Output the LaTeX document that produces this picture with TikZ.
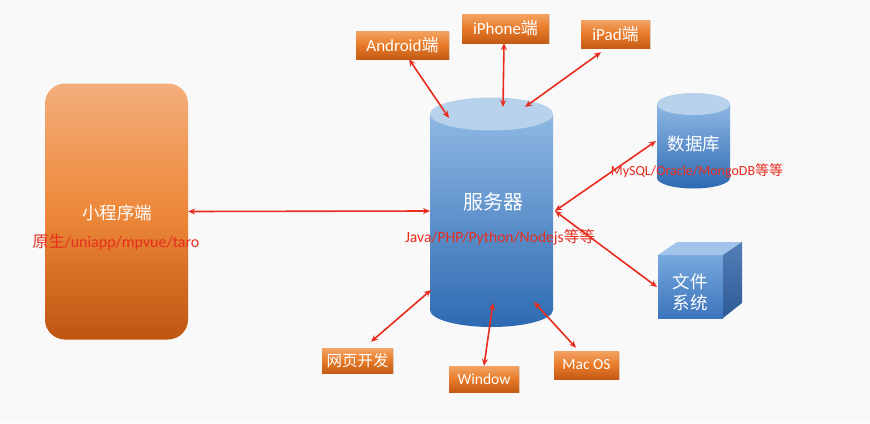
\documentclass[tikz,border=0pt]{standalone}
\usepackage{fontspec}
\setmainfont{Carlito}
\newfontfamily\cjk{Noto Sans CJK SC}
\usetikzlibrary{arrows.meta,shadows}
\definecolor{bg}{RGB}{249,249,250}
\definecolor{ared}{RGB}{232,45,30}
\definecolor{oTop}{RGB}{243,164,100}
\definecolor{oMid}{RGB}{232,122,40}
\definecolor{oBot}{RGB}{196,92,22}
\definecolor{bTop}{RGB}{242,174,124}
\definecolor{bMid}{RGB}{238,136,58}
\definecolor{bBot}{RGB}{190,86,16}
\definecolor{cylTop}{RGB}{184,210,236}
\definecolor{cylA}{RGB}{142,184,228}
\definecolor{cylB}{RGB}{46,106,178}
\definecolor{cubeTop}{RGB}{163,196,234}
\definecolor{cubeA}{RGB}{120,168,222}
\definecolor{cubeB}{RGB}{60,116,188}
\definecolor{cubeR1}{RGB}{84,128,186}
\definecolor{cubeR2}{RGB}{44,90,148}
\tikzset{
  obox/.style={text=white, inner sep=0pt, top color=oTop, bottom color=oBot, middle color=oMid,
    drop shadow={shadow xshift=1.2pt, shadow yshift=-1.2pt, opacity=0.25}},
  topf/.style={font=\fontsize{17}{20}\selectfont},
  botf/.style={font=\fontsize{15.5}{18}\selectfont},
  arr/.style={draw=ared, line width=1.6pt, {Stealth[length=7pt,width=6pt]}-{Stealth[length=7pt,width=6pt]}},
  redtxt/.style={text=ared, inner sep=0pt},
  wtxt/.style={text=white, inner sep=0pt}
}
\begin{document}
\begin{tikzpicture}[x=1pt,y=-1pt]
\useasboundingbox (0,0) rectangle (870,423);
\fill[bg] (0,0) rectangle (870,423);

% left mini program box
\node[rounded corners=20pt, minimum width=143pt, minimum height=256pt, inner sep=0pt,
  top color=bTop, bottom color=bBot, middle color=bMid] (mini) at (116.5,211.5) {};
\node[wtxt, font=\cjk\fontsize{17.5}{20}\selectfont] (minilabel) at (117,213) {小程序端};
\node[redtxt, font=\fontsize{16}{18}\selectfont] (minitech) at (116,242) {{\cjk 原生}/uniapp/mpvue/taro};

% server cylinder
\shade[top color=cylA, bottom color=cylB] (430,115) -- (430,310) arc[start angle=180, end angle=360, x radius=61.5pt, y radius=17pt] -- (553,115) -- cycle;
\fill[cylTop] (491.5,114) ellipse[x radius=61.5pt, y radius=16.5pt];
\node[wtxt, font=\cjk\fontsize{20}{24}\selectfont] (srvlabel) at (493,202) {服务器};

% database cylinder
\shade[top color=cylA, bottom color=cylB] (657,104) -- (657,178) arc[start angle=180, end angle=360, x radius=36.5pt, y radius=10.5pt] -- (730,104) -- cycle;
\fill[cylTop] (693.5,104) ellipse[x radius=36.5pt, y radius=11pt];
\node[wtxt, font=\cjk\fontsize{17.5}{20}\selectfont] (dblabel) at (694,144) {数据库};

% file system cube
\shade[top color=cubeA, bottom color=cubeB] (658,255) rectangle (723,318);
\fill[cubeTop] (658,255) -- (677,242) -- (742,242) -- (723,255) -- cycle;
\shade[top color=cubeR1, bottom color=cubeR2] (723,255) -- (742,242) -- (742,303) -- (723,318) -- cycle;
\node[wtxt, align=center, font=\cjk\fontsize{17.5}{21}\selectfont] (fslabel) at (690,292) {文件\\系统};

% red technology labels
\node[redtxt, font=\fontsize{15.6}{18}\selectfont] (srvtech) at (500,237) {Java/PHP/Python/Nodejs{\cjk 等等}};
\node[redtxt, font=\fontsize{14}{17}\selectfont] (dbtech) at (697,171) {MySQL/Oracle/MongoDB{\cjk 等等}};

% client boxes
\node[obox, topf, minimum width=93pt, minimum height=28pt] (android) at (402.5,45) {Android{\cjk 端}};
\node[obox, topf, minimum width=87pt, minimum height=29pt] (iphone) at (505.5,28.5) {iPhone{\cjk 端}};
\node[obox, topf, minimum width=69pt, minimum height=28pt] (ipad) at (615.5,34) {iPad{\cjk 端}};
\node[obox, botf, minimum width=71pt, minimum height=25pt] (web) at (357.5,360.5) {\cjk 网页开发};
\node[obox, botf, minimum width=70pt, minimum height=26pt] (win) at (484,379) {Window};
\node[obox, botf, minimum width=65pt, minimum height=28pt] (mac) at (586.5,365) {Mac OS};

% connector end points on the shapes
\coordinate (srvL) at (430,211);
\coordinate (srvR) at (555,211);
\coordinate (srvA) at (449,118);
\coordinate (srvI) at (503,107);
\coordinate (srvP) at (525,107);
\coordinate (srvW) at (431,290);
\coordinate (srvWin) at (493,303);
\coordinate (srvM) at (534,302);
\coordinate (dbIn) at (656,141);
\coordinate (fsIn) at (657,287);

% connectors
\draw[arr] (mini.east) -- (srvL);
\draw[arr] ([xshift=6.5pt]android.south) -- (srvA);
\draw[arr] ([xshift=-1.5pt]iphone.south) -- (srvI);
\draw[arr] ([xshift=-14.5pt,yshift=-4pt]ipad.south) -- (srvP);
\draw[arr] ([xshift=13.5pt,yshift=6pt]web.north) -- (srvW);
\draw[arr] (win.north) -- (srvWin);
\draw[arr] ([xshift=-10.5pt,yshift=3pt]mac.north) -- (srvM);
\draw[arr] (srvR) -- (dbIn);
\draw[arr] (srvR) -- (fsIn);
\end{tikzpicture}
\end{document}
